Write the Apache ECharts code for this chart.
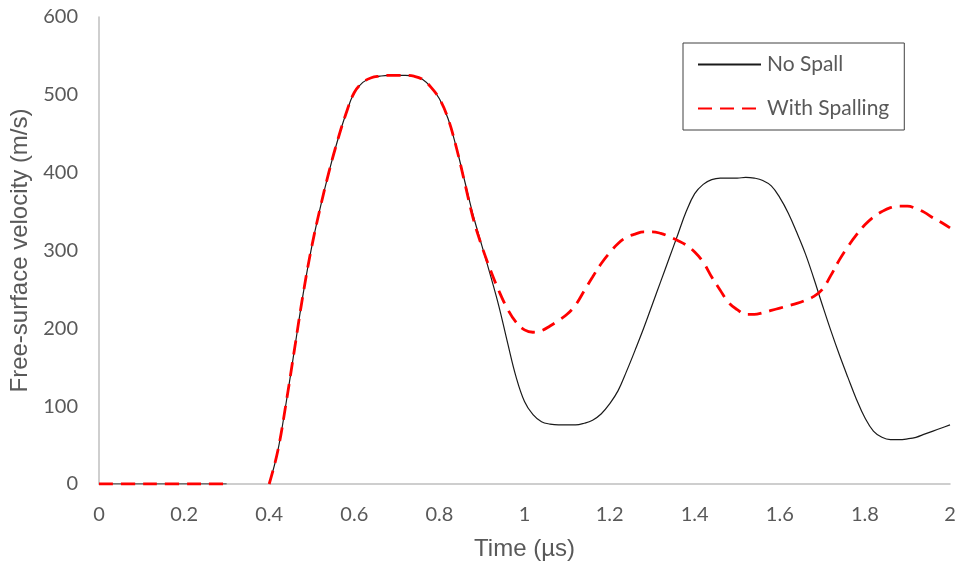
<!DOCTYPE html>
<html>
<head>
<meta charset="utf-8">
<script src="https://cdn.jsdelivr.net/npm/echarts@6/dist/echarts.min.js"></script>
<style>
  html, body { margin: 0; padding: 0; background: #fff; }
  #chart { width: 959px; height: 570px; }
</style>
</head>
<body>
<div id="chart"></div>
<script>
// time step 0.02 µs, from 0 to 2
const times = Array.from({ length: 101 }, (_, i) => +(i * 0.02).toFixed(2));

// free-surface velocity (m/s), null = no data drawn
const noSpall = [
  0, 0, 0, 0, 0, 0, 0, 0, 0, 0,
  0, 0, 0, 0, 0, 0,
  null, null, null, null,
  0, 42, 105, 175, 245, 305, 355, 400, 440, 475,
  503, 516, 522, 524, 525, 525, 525, 524, 520, 510,
  495, 470, 432, 388, 344, 306, 268, 228, 182, 138,
  106, 89, 80, 77, 76, 76, 76, 78, 82, 90,
  103, 120, 145, 172, 200, 230, 260, 290, 320, 350,
  373, 385, 391, 393, 393, 393, 394, 393, 390, 383,
  368, 348, 323, 296, 264, 230, 197, 166, 137, 109,
  85, 68, 60, 57, 57, 58, 60, 64, 68, 72,
  76
];

const withSpalling = [
  0, 0, 0, 0, 0, 0, 0, 0, 0, 0,
  0, 0, 0, 0, 0, 0,
  null, null, null, null,
  0, 42, 105, 175, 245, 305, 355, 400, 440, 475,
  503, 516, 522, 524, 525, 525, 525, 524, 520, 510,
  495, 470, 432, 386, 340, 305, 275, 248, 225, 208,
  198, 195, 197, 203, 210, 218, 230, 248, 266, 283,
  297, 309, 317, 321, 324, 324, 322, 318, 313, 307,
  298, 285, 266, 249, 233, 224, 218, 218, 220, 223,
  226, 229, 232, 236, 241, 250, 268, 288, 305, 320,
  333, 343, 350, 355, 357, 357, 354, 349, 342, 336,
  329
];

const pairs = (vals) => times.map((t, i) => [t, vals[i]]);

const chart = echarts.init(document.getElementById('chart'));
const font = 'Lato, "Open Sans", sans-serif';
const titleFont = '"Liberation Sans", Arial, sans-serif';

chart.setOption({
  animation: false,
  textStyle: { fontFamily: font },
  grid: { left: 99, right: 9, top: 17, bottom: 86, outerBoundsMode: 'none' },
  legend: {
    orient: 'vertical',
    left: 683,
    top: 43,
    padding: [11, 15, 11, 14],
    borderColor: '#404040',
    borderWidth: 1,
    itemWidth: 63,
    itemHeight: 14,
    itemGap: 23,
    itemStyle: { opacity: 0 },
    textStyle: { fontFamily: font, fontSize: 21, color: '#595959', padding: [0, 0, 0, 1] },
    data: ['No Spall', 'With Spalling']
  },
  xAxis: {
    type: 'value',
    min: 0,
    max: 2,
    interval: 0.2,
    name: 'Time (µs)',
    nameLocation: 'middle',
    nameGap: 53,
    nameTextStyle: { fontFamily: titleFont, fontSize: 24, color: '#595959' },
    axisLine: { show: true, lineStyle: { color: '#bfbfbf', width: 1.5 } },
    axisTick: { show: false },
    splitLine: { show: false },
    axisLabel: { margin: 21, fontSize: 20, color: '#595959', fontFamily: font }
  },
  yAxis: {
    type: 'value',
    min: 0,
    max: 600,
    interval: 100,
    name: 'Free-surface velocity (m/s)',
    nameLocation: 'middle',
    nameGap: 65,
    nameTextStyle: { fontFamily: titleFont, fontSize: 24, color: '#595959' },
    axisLine: { show: true, lineStyle: { color: '#bfbfbf', width: 1.5 } },
    axisTick: { show: false },
    splitLine: { show: false },
    axisLabel: { margin: 21, fontSize: 20, color: '#595959', fontFamily: font }
  },
  series: [
    {
      name: 'No Spall',
      type: 'line',
      data: pairs(noSpall),
      symbol: 'none',
      smooth: 0.4,
      connectNulls: false,
      lineStyle: { color: '#1a1a1a', width: 1.2 },
      itemStyle: { color: '#1a1a1a' },
      z: 2
    },
    {
      name: 'With Spalling',
      type: 'line',
      data: pairs(withSpalling),
      symbol: 'none',
      smooth: 0.4,
      connectNulls: false,
      lineStyle: { color: '#ff0000', width: 2.8, type: [14, 8] },
      itemStyle: { color: '#ff0000' },
      z: 3
    }
  ]
});
</script>
</body>
</html>
